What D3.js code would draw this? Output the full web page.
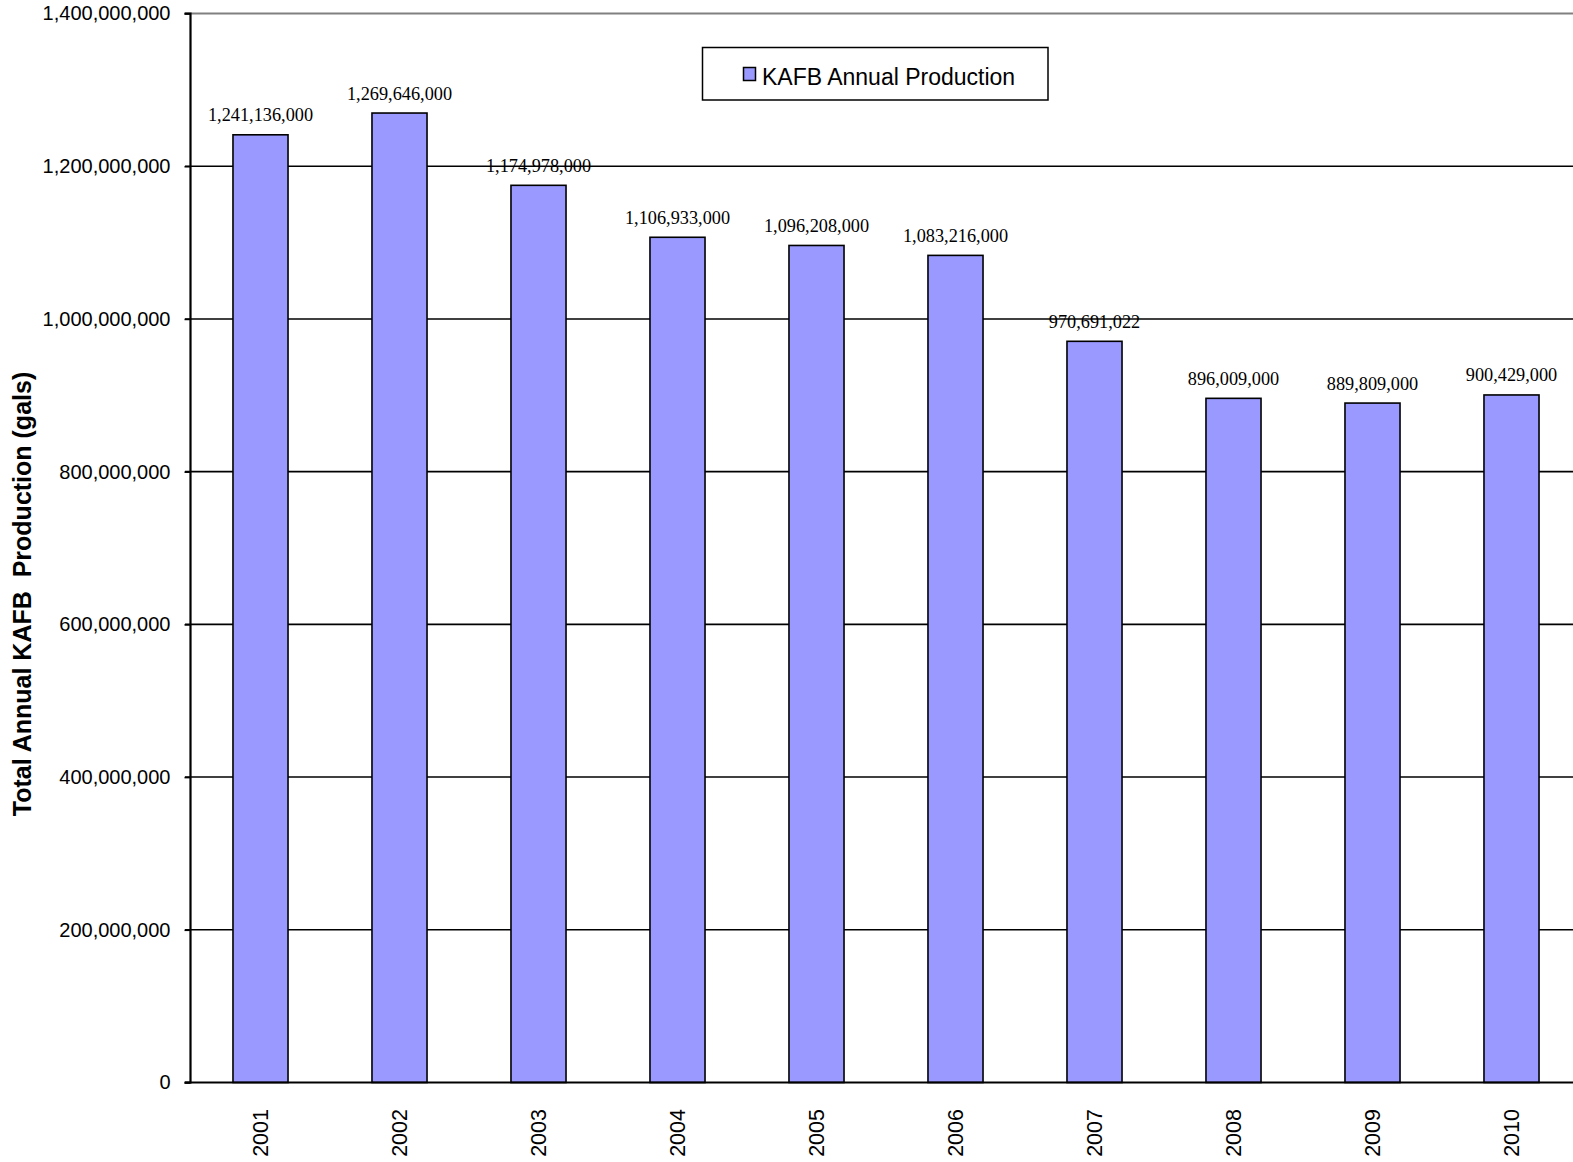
<!DOCTYPE html>
<html><head><meta charset="utf-8">
<script src="https://cdn.jsdelivr.net/npm/d3@7"></script>
<style>body{margin:0;background:#fff;overflow:hidden}svg{display:block}</style>
</head><body>
<svg id="chart" width="1573" height="1162"></svg>
<script>
const years = ["2001","2002","2003","2004","2005","2006","2007","2008","2009","2010"];
const production = [1241136000,1269646000,1174978000,1106933000,1096208000,1083216000,970691022,896009000,889809000,900429000];
const yTicks = [0,200000000,400000000,600000000,800000000,1000000000,1200000000,1400000000];
const seriesName = "KAFB Annual Production";
const yTitle = "Total Annual KAFB  Production (gals)";

const svg = d3.select("#chart");
const x0 = 191, step = 139;
const x = d3.scaleBand().domain(years).range([x0, x0 + step*years.length]).paddingInner(0.604).paddingOuter(0.302);
const y = d3.scaleLinear().domain([0,1400000000]).range([1082.5, 13.5]);
const fmt = d3.format(",");

// gridlines
svg.append("g").selectAll("line").data(yTicks.filter(d=>d>0 && d<1400000000)).join("line")
  .attr("x1",185).attr("x2",1600).attr("y1",d=>y(d)).attr("y2",d=>y(d))
  .attr("stroke","#000").attr("stroke-width",1.6);
// top border
svg.append("line").attr("x1",185).attr("x2",1600).attr("y1",y(1400000000)).attr("y2",y(1400000000))
  .attr("stroke","#808080").attr("stroke-width",2.2);

// bars
svg.append("g").selectAll("rect").data(years).join("rect")
  .attr("x",d=>x(d)).attr("width",x.bandwidth())
  .attr("y",(d,i)=>y(production[i])).attr("height",(d,i)=>y(0)-y(production[i]))
  .attr("fill","#9999FF").attr("stroke","#000").attr("stroke-width",1.6);

// value labels
svg.append("g").selectAll("text").data(years).join("text")
  .attr("x",d=>x(d)+x.bandwidth()/2).attr("y",(d,i)=>y(production[i])-13.5)
  .attr("text-anchor","middle").attr("font-family","'Liberation Serif','Times New Roman',serif")
  .attr("font-size","18.3px").attr("fill","#000")
  .text((d,i)=>fmt(production[i]));

// y axis
const yAxis = d3.axisLeft(y).tickValues(yTicks).tickFormat(d=>fmt(d)).tickSize(6).tickPadding(14);
const ya = svg.append("g").attr("transform",`translate(${x0-0.5},0)`).call(yAxis);
ya.select(".domain").attr("stroke","#000").attr("stroke-width",2.2).attr("d",`M-6,${y(1400000000)}H0V${y(0)}H-6`);
ya.selectAll(".tick line").attr("stroke","#000").attr("stroke-width",1.6);
ya.selectAll(".tick text").attr("font-family","'Liberation Sans',Arial,sans-serif").attr("font-size","20px").attr("fill","#000");

// baseline
svg.append("line").attr("x1",185).attr("x2",1600).attr("y1",y(0)).attr("y2",y(0))
  .attr("stroke","#000").attr("stroke-width",2);

// x labels
svg.append("g").selectAll("text").data(years).join("text")
  .attr("transform",d=>`translate(${x(d)+x.bandwidth()/2},1109) rotate(-90)`)
  .attr("text-anchor","end").attr("dy","0.35em")
  .attr("font-family","'Liberation Sans',Arial,sans-serif").attr("font-size","21.5px").attr("fill","#000")
  .text(d=>d);

// y title
svg.append("text").attr("transform","translate(22,594) rotate(-90)")
  .attr("text-anchor","middle").attr("dy","0.35em")
  .attr("font-family","'Liberation Sans',Arial,sans-serif").attr("font-weight","bold").attr("font-size","25px")
  .attr("xml:space","preserve").style("white-space","pre")
  .text(yTitle);

// legend
const lg = svg.append("g");
lg.append("rect").attr("x",702.5).attr("y",47.5).attr("width",345.5).attr("height",52.5)
  .attr("fill","#fff").attr("stroke","#000").attr("stroke-width",1.5);
lg.append("rect").attr("x",743.5).attr("y",67.5).attr("width",12).attr("height",13)
  .attr("fill","#9999FF").attr("stroke","#000").attr("stroke-width",1.5);
lg.append("text").attr("x",762).attr("y",85).attr("font-family","'Liberation Sans',Arial,sans-serif")
  .attr("font-size","23px").attr("fill","#000").text(seriesName);
</script>
</body></html>
